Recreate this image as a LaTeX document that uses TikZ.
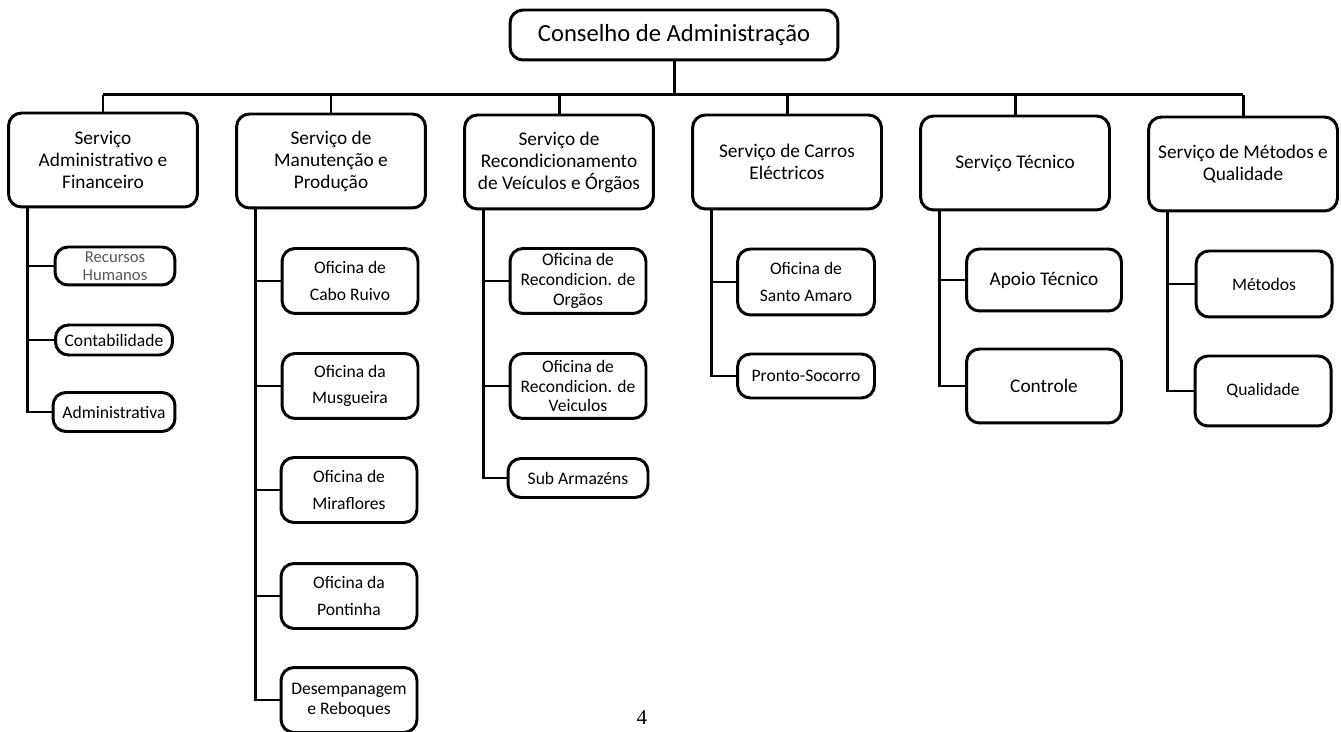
\documentclass[tikz,border=0pt]{standalone}
\usepackage{fontspec}
\setmainfont{Carlito}
\newfontfamily\pagefont{Liberation Serif}
\usetikzlibrary{positioning}
\tikzset{
	x=0.02cm, y=-0.02cm, % one unit is one pixel of the scan
	box/.style={draw, line width=1.7pt, rounded corners=0.26cm, align=center, inner sep=2pt},
	board/.style={box, minimum width=6.56cm, minimum height=1cm, font=\fontsize{14}{16}\selectfont},
	service/.style={box, minimum width=3.78cm, minimum height=1.88cm, font=\fontsize{11}{12.5}\selectfont},
	unit/.style={box, minimum width=2.72cm, minimum height=1.3cm, font=\fontsize{10}{15}\selectfont},
	tight/.style={font=\fontsize{10}{11.3}\selectfont},
	link/.style={line width=1.7pt},
}
\begin{document}
\begin{tikzpicture}
	\useasboundingbox (0,0) rectangle (1341,732);
	% the board
	\node[board] (cons) at (674,35) {Conselho de Administração};
	\coordinate (bus) at (0,95);
	% the six services
	\node[service] (saf) at (103,160) {Serviço\\Administrativo e\\Financeiro};
	\node[service] (smp) at (331,161) {Serviço de\\Manutenção e\\Produção};
	\node[service] (srv) at (559,162) {Serviço de\\Recondicionamento\\de Veículos e Órgãos};
	\node[service] (sce) at (787,162) {Serviço de Carros\\Eléctricos};
	\node[service] (stc) at (1015,163) {Serviço Técnico};
	\node[service] (smq) at (1243,164) {Serviço de Métodos e\\Qualidade};
	%% admin and finance
	\node[unit, minimum width=2.4cm, minimum height=0.76cm, text=black!65, font=\fontsize{9.5}{10.5}\selectfont] (rh) at (115,266) {Recursos\\Humanos};
	\node[unit, minimum width=2.34cm, minimum height=0.6cm] (cont) at (114,340) {Contabilidade};
	\node[unit, minimum width=2.44cm, minimum height=0.78cm] (adm) at (114,412) {Administrativa};
	%% workshops
	\node[unit] (cabo) at (350,281) {Oficina de\\Cabo Ruivo};
	\node[unit] (musg) at (350,386) {Oficina da\\Musgueira};
	\node[unit] (mira) at (349,490) {Oficina de\\Miraflores};
	\node[unit] (pont) at (349,596) {Oficina da\\Pontinha};
	\node[unit, tight] (desemp) at (349,700) {Desempanagem\\e Reboques};
	%% reconditioning
	\node[unit, tight] (rorg) at (578,281) {Oficina de\\Recondicion. de\\Orgãos};
	\node[unit, tight] (rveic) at (578,386) {Oficina de\\Recondicion. de\\Veiculos};
	\node[unit, minimum width=2.8cm, minimum height=0.78cm] (arm) at (578,478) {Sub Armazéns};
	%% electric cars
	\node[unit, minimum width=2.74cm, minimum height=1.32cm] (amaro) at (806,282) {Oficina de\\Santo Amaro};
	\node[unit, minimum width=2.74cm, minimum height=0.88cm] (socorro) at (806,376) {Pronto-Socorro};
	%% technical
	\node[unit, minimum width=3.1cm, minimum height=1.24cm, font=\fontsize{11}{13}\selectfont] (apoio) at (1044,280) {Apoio Técnico};
	\node[unit, minimum width=3.1cm, minimum height=1.48cm, font=\fontsize{11}{13}\selectfont] (ctrl) at (1044,386) {Controle};
	%% methods and quality
	\node[unit, minimum height=1.32cm] (met) at (1264,284) {Métodos};
	\node[unit, minimum height=1.4cm] (qual) at (1263,391) {Qualidade};
	% page number
	\node[font=\pagefont\fontsize{12}{14}\selectfont] (pg) at (642,718) {4};

	% board to services
	\draw[link] (cons.south) -- (cons.south |- bus);
	\draw[link] (saf.north |- bus) -- (smq.north |- bus);
	\foreach \s in {saf,smp,srv,sce,stc,smq}
		\draw[link] (\s.north) -- (\s.north |- bus);
	% services to their units
	\foreach \p/\c in {saf/rh, saf/cont, saf/adm,
			smp/cabo, smp/musg, smp/mira, smp/pont, smp/desemp,
			srv/rorg, srv/rveic, srv/arm,
			sce/amaro, sce/socorro,
			stc/apoio, stc/ctrl,
			smq/met, smq/qual}
		\draw[link] ([xshift=0.4cm]\p.south west) |- (\c.west);
\end{tikzpicture}
\end{document}
